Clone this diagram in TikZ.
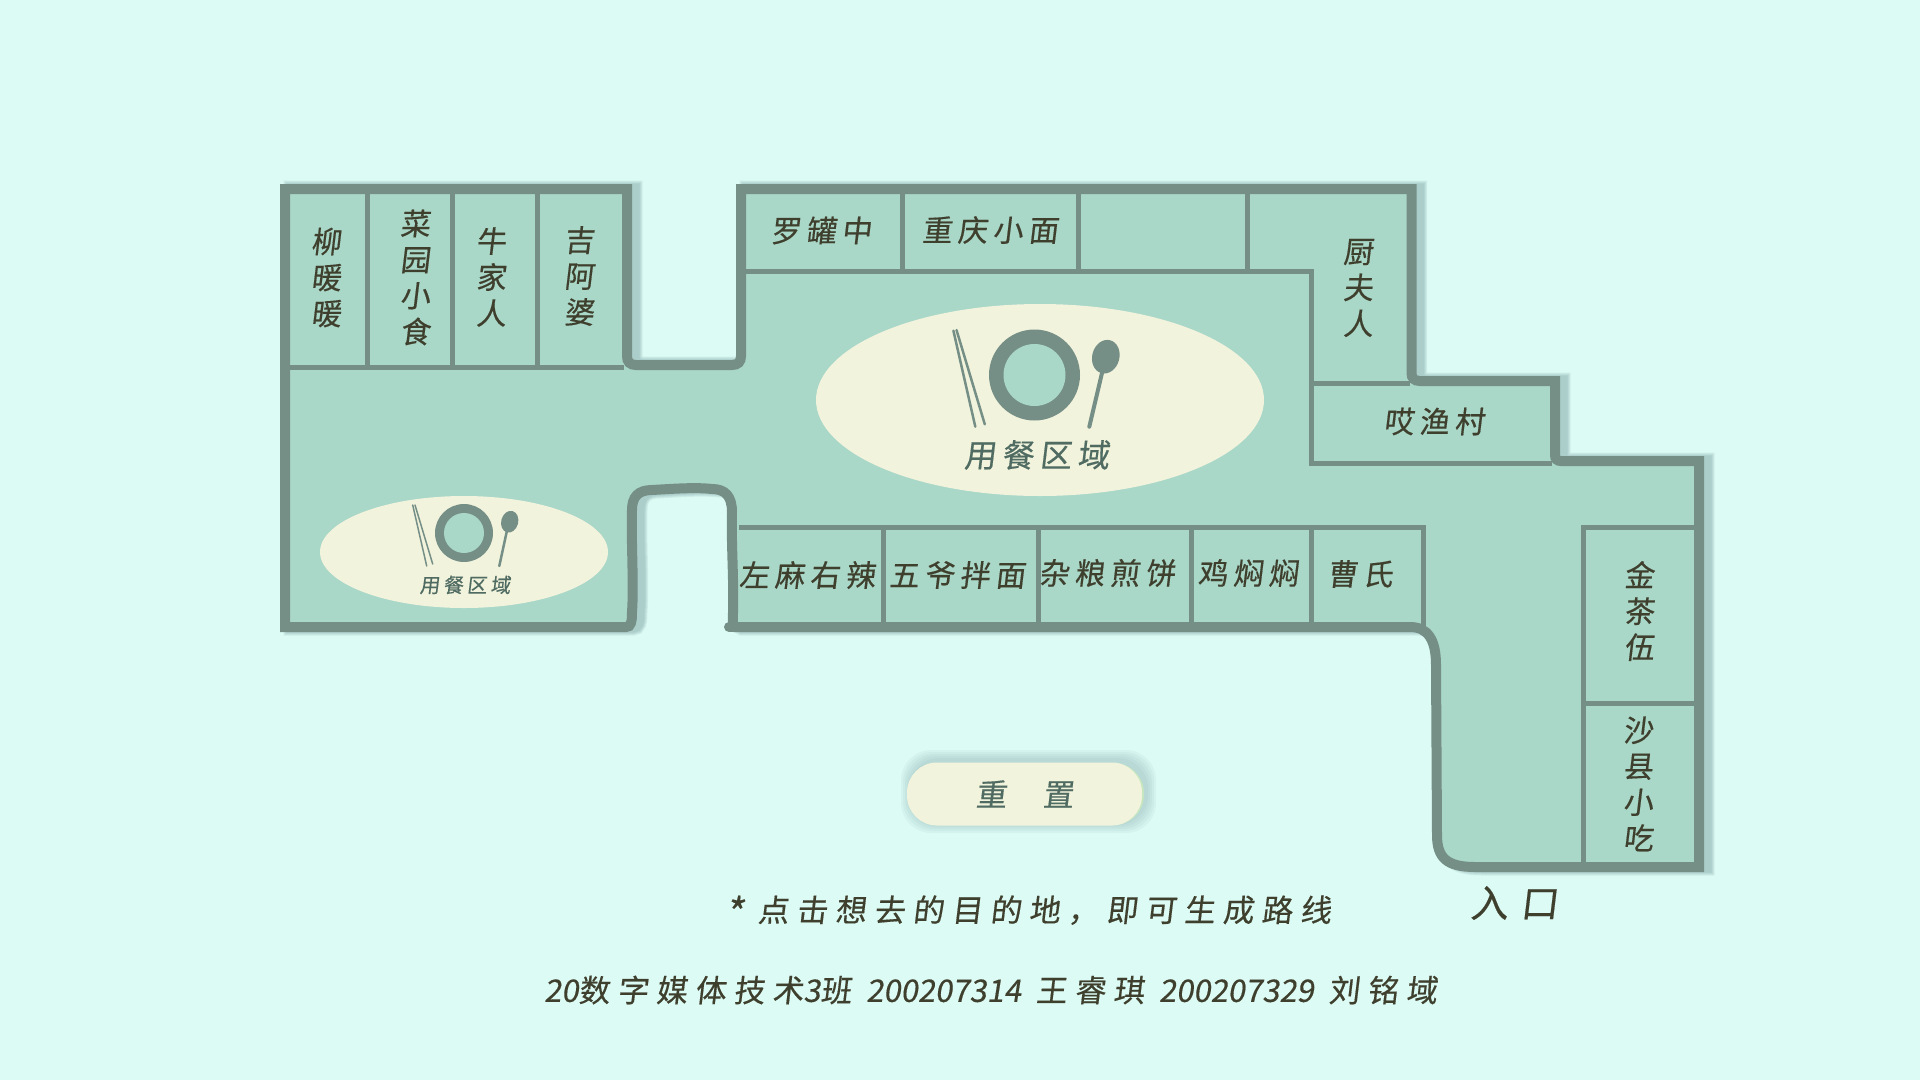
\documentclass[tikz,border=0pt]{standalone}
\usepackage{fontspec}
\usepackage{xcolor}
\usetikzlibrary{positioning}
\newfontfamily\cjk[FakeSlant=0.12,FakeBold=0.4,LetterSpace=18]{Noto Sans CJK SC}
\newfontfamily\cjkwide[FakeSlant=0.12,FakeBold=0.4,LetterSpace=25]{Noto Sans CJK SC}
\newfontfamily\cjkplain[FakeSlant=0.16,FakeBold=0.4]{Noto Sans CJK SC}
\newcommand{\dg}[1]{{\cjkplain #1}}
\definecolor{bgmint}{HTML}{DCFBF5}
\definecolor{floorgreen}{HTML}{A9D7C8}
\definecolor{wallgreen}{HTML}{758F86}
\definecolor{shadowgreen}{HTML}{6F9693}
\definecolor{cream}{HTML}{F1F3DC}
\definecolor{creamrim}{HTML}{C6E6C0}
\definecolor{inkdark}{HTML}{3F3F2E}
\definecolor{inksoft}{HTML}{4F6B62}
% outline of the floor, also used for the wall and its shadow
\newcommand{\floorpath}{(285,189) -- (627,189) -- (627,356) .. controls (627,362) and (630,365) .. (636,365)
  -- (732,365) .. controls (738,365) and (741,362) .. (741,356) -- (741,189) -- (1411.5,189) -- (1411.5,373)
  .. controls (1411.5,378) and (1414,381) .. (1420,381) -- (1555,381) -- (1555,455) .. controls (1555,459) and (1557,461) .. (1561,461)
  -- (1699,461) -- (1699,867) -- (1475,867) .. controls (1447,867) and (1437,858) .. (1437,835) -- (1436,665)
  .. controls (1436,640) and (1428,627) .. (1410,627) -- (735,627) .. controls (732,627) and (733,622) .. (733,612)
  .. controls (734,580) and (731,540) .. (732,512) .. controls (732,496) and (725,489) .. (712,489)
  .. controls (695,487) and (670,489) .. (652,490) .. controls (638,490) and (632,497) .. (632,510)
  .. controls (631,540) and (634,585) .. (632,612) .. controls (632,622) and (631,627) .. (626,627) -- (285,627) -- cycle}

\begin{document}
\begin{tikzpicture}[
  x=1pt, y=-1pt,
  floorfill/.style={fill=floorgreen},
  wall/.style={draw=wallgreen, line width=10pt},
  partition/.style={draw=wallgreen, line width=5pt},
  shop/.style={font=\cjk\fontsize{30}{36}\selectfont, text=inkdark, align=center, inner sep=0pt},
  dine/.style={fill=cream},
  plate/.style={fill=wallgreen},
  stick/.style={draw=wallgreen, line cap=round},
  dinelabel/.style={text=inksoft, inner sep=0pt},
  note/.style={font=\cjkwide\fontsize{31}{36}\selectfont, text=inkdark, inner sep=0pt},
  resetbtn/.style={fill=cream, rounded corners=30pt, minimum width=235pt, minimum height=63pt, inner sep=0pt,
    font=\cjk\fontsize{31}{36}\selectfont, text=inksoft}
]

\useasboundingbox (0,0) rectangle (1920,1080);
\fill[bgmint] (0,0) rectangle (1920,1080);

% soft shadow of the wall
\foreach \w in {17,15,13,11} {
  \draw[shadowgreen, line width=\w pt, opacity=0.13, xshift=7pt] \floorpath;
}
\fill[floorfill] \floorpath;
\draw[wall] \floorpath;
\draw[wallgreen, line width=10pt, line cap=round] (729,627) -- (740,627);

% top left shops
\draw[partition] (367.5,189) -- (367.5,367.5);
\draw[partition] (452.5,189) -- (452.5,367.5);
\draw[partition] (537.5,189) -- (537.5,367.5);
\draw[partition] (285,367.5) -- (624,367.5);

% top row
\draw[partition] (902.5,189) -- (902.5,271.5);
\draw[partition] (1078.5,189) -- (1078.5,271.5);
\draw[partition] (1247.5,189) -- (1247.5,271.5);
\draw[partition] (741,271.5) -- (1314,271.5);
\draw[partition] (1311.5,271.5) -- (1311.5,465);
\draw[partition] (1309,383.5) -- (1410,383.5);
\draw[partition] (1309,463.5) -- (1552,463.5);

% bottom row
\draw[partition] (739,527.5) -- (1426,527.5);
\draw[partition] (883.5,527.5) -- (883.5,627);
\draw[partition] (1038.5,527.5) -- (1038.5,627);
\draw[partition] (1191.5,527.5) -- (1191.5,627);
\draw[partition] (1311.5,527.5) -- (1311.5,627);
\draw[partition] (1423.5,527.5) -- (1423.5,627);

% right column
\draw[partition] (1583.5,525) -- (1583.5,867);
\draw[partition] (1581,527.5) -- (1699,527.5);
\draw[partition] (1583.5,703.5) -- (1699,703.5);

% large dining area
\fill[dine] (1040,400) ellipse [x radius=224, y radius=96];
\fill[plate] (1034.5,375) circle (45.5);
\fill[floorfill] (1034.5,375) circle (31);
\draw[stick, line width=2.5pt] (953.4,330.7) -- (975.3,426.7);
\draw[stick, line width=2.5pt] (956.5,330) -- (984.8,424.3);
\fill[plate] (1105.8,356.7) ellipse [x radius=13.6, y radius=17, rotate=-15];
\draw[stick, line width=4pt] (1102.7,370) -- (1089.3,426.7);
\node[dinelabel, font=\cjk\fontsize{32}{36}\selectfont] (dinebig) at (1036.5,455) {用餐区域};

% small dining area
\fill[dine] (464,552) ellipse [x radius=144, y radius=56];
\fill[plate] (464,533) circle (29);
\fill[floorfill] (464,533) circle (20);
\draw[stick, line width=1.5pt] (412.7,505) -- (426.7,566);
\draw[stick, line width=1.5pt] (415,505) -- (432.7,564);
\fill[plate] (509.7,521.7) ellipse [x radius=8.5, y radius=11, rotate=-15];
\draw[stick, line width=2.5pt] (507.3,529) -- (499.3,566);
\node[dinelabel, font=\cjk\fontsize{20}{24}\selectfont] (dinesmall) at (465,585) {用餐区域};

% shop names
\node[shop] (liu) at (326,277.5) {柳\\暖\\暖};
\node[shop] (caiyuan) at (415,277.5) {菜\\园\\小\\食};
\node[shop] (niujia) at (491,277) {牛\\家\\人};
\node[shop] (jiapo) at (579,276) {吉\\阿\\婆};
\node[shop] (luoguan) at (821,230.5) {罗罐中};
\node[shop] (chongqing) at (990,230) {重庆小面};
\node[shop] (chufu) at (1358,288) {厨\\夫\\人};
\node[shop] (aiyu) at (1434,421.5) {哎渔村};
\node[shop] (zuoma) at (807,575) {左麻右辣};
\node[shop] (wuye) at (957,575) {五爷拌面};
\node[shop] (zaliang) at (1107,573) {杂粮煎饼};
\node[shop] (jimen) at (1248,573) {鸡焖焖};
\node[shop] (caoshi) at (1360,574) {曹氏};
\node[shop] (jincha) at (1639,611) {金\\茶\\伍};
\node[shop] (shaxian) at (1638,784) {沙\\县\\小\\吃};

% reset button
\foreach \g in {10,8,6,4,2} {
  \fill[shadowgreen, opacity=0.07, rounded corners=30pt]
    (911-\g,760-\g) rectangle (1146+\g,823+\g);
}
\fill[creamrim, rounded corners=30pt] (912,763) rectangle (1144,825);
\node[resetbtn] (reset) at (1024.5,794) {重\hspace{36pt}置};

% texts
\node[note, font=\cjk\fontsize{38}{40}\selectfont] (entry) at (1514,903) {入\hspace{12pt}口};
\node[note] (hint) at (1028,911.5) {\raisebox{-6pt}{\dg{\fontsize{40}{40}\selectfont *}}\hspace{14pt}点击想去的目的地，即可生成路线};
\node[note] (credit) at (990.5,990) {\dg{20}数字媒体技术\dg{3}班 \dg{200207314} 王睿琪 \dg{200207329} 刘铭域};

\end{tikzpicture}
\end{document}
